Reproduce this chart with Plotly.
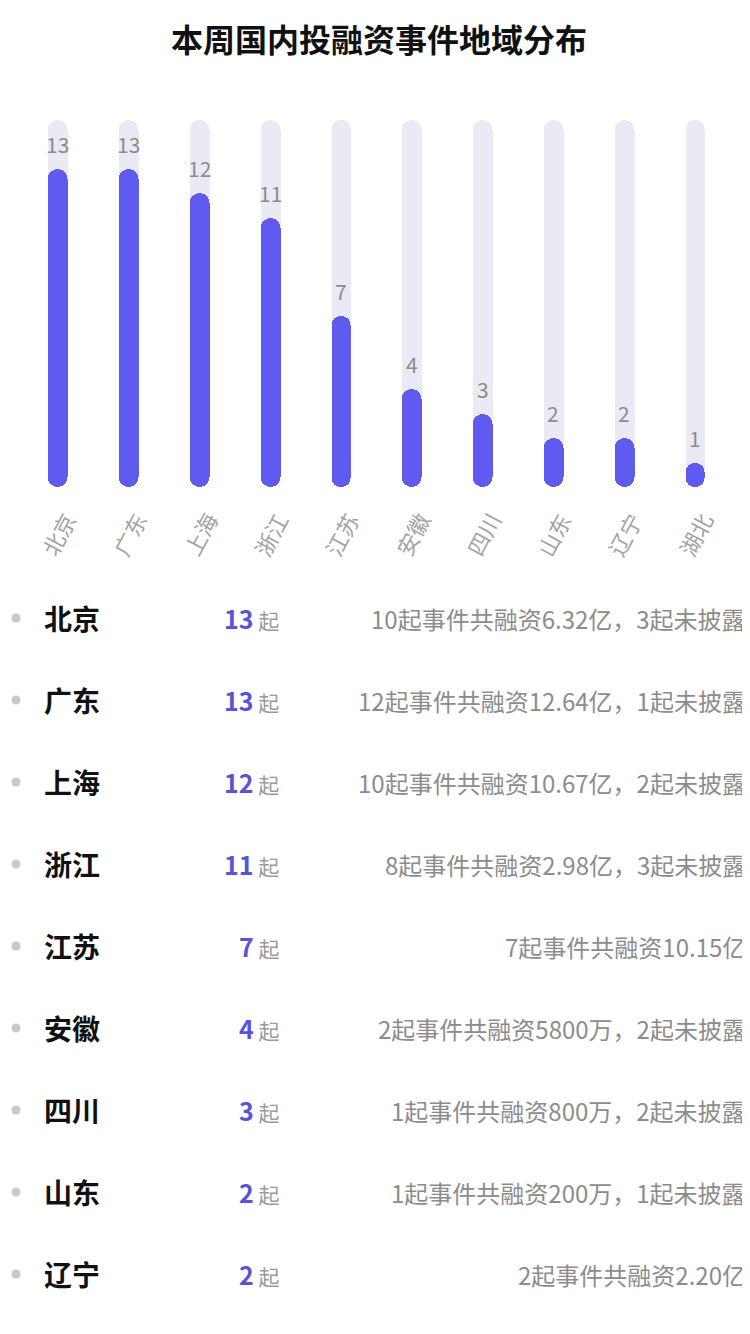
import plotly.graph_objects as go

# 数据
provinces = ["北京", "广东", "上海", "浙江", "江苏", "安徽", "四川", "山东", "辽宁", "湖北"]
counts = [13, 13, 12, 11, 7, 4, 3, 2, 2, 1]
bg_max = 15

table_names = ["北京", "广东", "上海", "浙江", "江苏", "安徽", "四川", "山东", "辽宁"]
table_counts = [13, 13, 12, 11, 7, 4, 3, 2, 2]
table_notes = [
    "10起事件共融资6.32亿，3起未披露",
    "12起事件共融资12.64亿，1起未披露",
    "10起事件共融资10.67亿，2起未披露",
    "8起事件共融资2.98亿，3起未披露",
    "7起事件共融资10.15亿",
    "2起事件共融资5800万，2起未披露",
    "1起事件共融资800万，2起未披露",
    "1起事件共融资200万，1起未披露",
    "2起事件共融资2.20亿",
]

FONT = "Noto Sans CJK SC"
BAR_COLOR = "#605bf0"
BG_COLOR = "#e9eaf4"
# 页面 body 默认有 8px 边距，图本身缩小 8px
OFF = 8
W = 750 - OFF
H = 1334 - OFF


def py(Y):
    # 页面像素 -> paper 坐标
    return 1 - (Y - OFF) / H


fig = go.Figure()

# 背景柱：向上一根 + 向下一根，叠加出两端圆角
bg = [bg_max] * len(provinces)
fig.add_trace(go.Bar(x=provinces, y=bg, base=0, width=0.28,
                     marker=dict(color=BG_COLOR, cornerradius=10, line_width=0),
                     hoverinfo="skip"))
fig.add_trace(go.Bar(x=provinces, y=[-v for v in bg], base=bg, width=0.28,
                     marker=dict(color=BG_COLOR, cornerradius=10, line_width=0),
                     hoverinfo="skip"))
# 数值柱
fig.add_trace(go.Bar(x=provinces, y=counts, base=0, width=0.28,
                     marker=dict(color=BAR_COLOR, cornerradius=10, line_width=0)))
fig.add_trace(go.Bar(x=provinces, y=[-v for v in counts], base=counts, width=0.28,
                     marker=dict(color=BAR_COLOR, cornerradius=10, line_width=0),
                     hoverinfo="skip"))

annotations = []
for p, v in zip(provinces, counts):
    annotations.append(dict(x=p, y=v, xref="x", yref="y", text=str(v), showarrow=False,
                            yanchor="bottom", yshift=8,
                            font=dict(family=FONT, size=21, color="#8c8c8c")))
    # 斜排的省份标签
    annotations.append(dict(x=p, y=0, xref="x", yref="y", text=p, showarrow=False,
                            textangle=-62, xanchor="center", yanchor="middle", yshift=-47,
                            font=dict(family=FONT, size=22, color="#a3a3a3")))

# 标题
annotations.append(dict(x=0.5, y=py(38), xref="paper", yref="paper",
                        text="<b>本周国内投融资事件地域分布</b>", showarrow=False,
                        xanchor="center", yanchor="middle",
                        font=dict(family=FONT, size=32, color="#111111")))

# 下方列表
rows = list(range(len(table_names)))
fig.add_trace(go.Scatter(x=[16] * len(rows), y=rows, xaxis="x2", yaxis="y2", mode="markers",
                         marker=dict(size=9, color="#c9c9cc"), hoverinfo="skip"))
for i, (n, c, t) in enumerate(zip(table_names, table_counts, table_notes)):
    annotations.append(dict(x=42, y=i, xref="x2", yref="y2", text=f"<b>{n}</b>",
                            showarrow=False, xanchor="left", yanchor="middle",
                            font=dict(family=FONT, size=28, color="#111111")))
    annotations.append(dict(x=281, y=i, xref="x2", yref="y2",
                            text=f"<b>{c}</b>"
                                 f"<span style='font-size:21px;color:#9a9a9a'> 起</span>",
                            showarrow=False, xanchor="right", yanchor="middle",
                            font=dict(family=FONT, size=25, color="#5a53d8")))
    annotations.append(dict(x=748, y=i, xref="x2", yref="y2", text=t,
                            showarrow=False, xanchor="right", yanchor="middle",
                            font=dict(family=FONT, size=24, color="#8c8c8c")))

fig.update_layout(
    width=W, height=H,
    margin=dict(l=0, r=0, t=0, b=0),
    paper_bgcolor="white", plot_bgcolor="white",
    barmode="overlay", bargap=0, showlegend=False,
    annotations=annotations,
    xaxis=dict(domain=[(22.6 - OFF) / W, (730.4 - OFF) / W], showgrid=False,
               zeroline=False, showline=False, ticks="", showticklabels=False),
    yaxis=dict(domain=[py(487), py(120)], range=[0, bg_max], visible=False),
    xaxis2=dict(domain=[0, 1], range=[OFF, 750], visible=False, anchor="y2"),
    yaxis2=dict(domain=[py(1315), py(577)], range=[8.5, -0.5],
                visible=False, anchor="x2"),
)

fig.write_html("out.html")
